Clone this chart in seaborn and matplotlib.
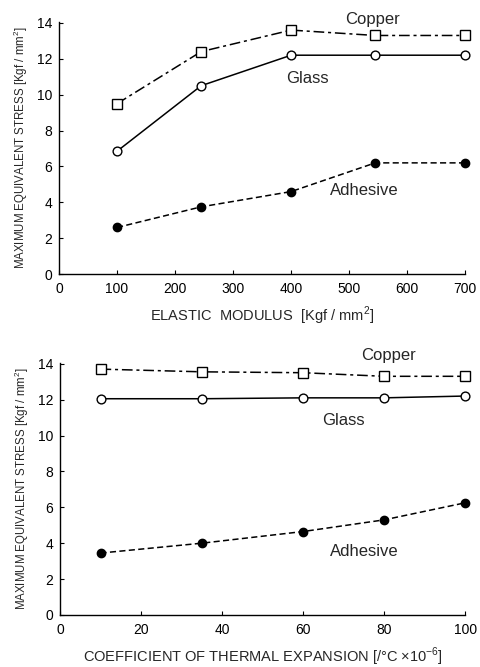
import matplotlib
matplotlib.use("Agg")
import matplotlib.pyplot as plt
import seaborn as sns
import pandas as pd

# Stress vs. elastic modulus of the adhesive layer
modulus = [100, 245, 400, 545, 700]
mod_copper = [9.5, 12.4, 13.6, 13.3, 13.3]
mod_glass = [6.85, 10.5, 12.2, 12.2, 12.2]
mod_adhesive = [2.6, 3.75, 4.6, 6.2, 6.2]

# Stress vs. coefficient of thermal expansion
cte = [10, 35, 60, 80, 100]
cte_copper = [13.7, 13.55, 13.5, 13.3, 13.3]
cte_glass = [12.05, 12.05, 12.1, 12.1, 12.2]
cte_adhesive = [3.45, 4.0, 4.65, 5.3, 6.25]

materials = ["Copper", "Glass", "Adhesive"]

sns.set_style("ticks")
plt.rcParams["font.family"] = ["Liberation Sans", "DejaVu Sans"]
plt.rcParams["mathtext.fontset"] = "custom"
plt.rcParams["mathtext.rm"] = "Liberation Sans"

styles = {
    "Copper": dict(dashes=(7, 2.5, 2, 2.5), marker="s", mfc="white", ms=6.5),
    "Glass": dict(dashes=(None, None), marker="o", mfc="white", ms=6.3),
    "Adhesive": dict(dashes=(4, 2.2), marker="o", mfc="black", ms=6),
}

fig = plt.figure(figsize=(4.8, 6.67), dpi=100)
ax1 = fig.add_axes([0.123, 0.589, 0.846, 0.378])
ax2 = fig.add_axes([0.125, 0.078, 0.844, 0.378])


def draw(ax, x, series, xlim, xticks, xlabel, labels):
    frames = []
    for name, vals in zip(materials, series):
        frames.append(pd.DataFrame({"x": x, "y": vals, "material": name}))
    df = pd.concat(frames, ignore_index=True)
    for name in materials:
        st = styles[name]
        sub = df[df["material"] == name]
        line = sns.lineplot(data=sub, x="x", y="y", ax=ax, color="black",
                            linewidth=1.1, marker=st["marker"],
                            markersize=st["ms"], markerfacecolor=st["mfc"],
                            markeredgecolor="black", markeredgewidth=1.0,
                            clip_on=False, legend=False).lines[-1]
        if st["dashes"][0] is not None:
            line.set_dashes(st["dashes"])
    for name, (tx, ty) in labels.items():
        ax.text(tx, ty, name, fontsize=12, ha="center", va="center")
    ax.set_xlim(*xlim)
    ax.set_ylim(0, 14.05)
    ax.set_xticks(xticks)
    ax.set_yticks(range(0, 15, 2))
    ax.tick_params(direction="in", length=3, width=0.8, labelsize=10,
                   colors="black")
    ax.tick_params(axis="x", pad=6)
    ax.tick_params(axis="y", pad=5)
    for s in ("top", "right"):
        ax.spines[s].set_visible(False)
    for s in ("left", "bottom"):
        ax.spines[s].set_linewidth(1.0)
        ax.spines[s].set_color("black")
    ax.set_xlabel(xlabel, fontsize=10.5, labelpad=6)
    ax.set_ylabel("MAXIMUM EQUIVALENT STRESS [Kgf / mm$^2$]", fontsize=8.3,
                  labelpad=5)


draw(ax1, modulus, [mod_copper, mod_glass, mod_adhesive], (0, 700),
     range(0, 701, 100), "ELASTIC  MODULUS  [Kgf / mm$^2$]",
     {"Copper": (540, 14.2), "Glass": (428, 10.9), "Adhesive": (526, 4.65)})

draw(ax2, cte, [cte_copper, cte_glass, cte_adhesive], (0, 100),
     range(0, 101, 20),
     "COEFFICIENT OF THERMAL EXPANSION [/\u00b0C \u00d710$^{-6}$]",
     {"Copper": (81, 14.46), "Glass": (70, 10.85), "Adhesive": (75, 3.52)})

fig.savefig("out.png", dpi=100, facecolor="white")
